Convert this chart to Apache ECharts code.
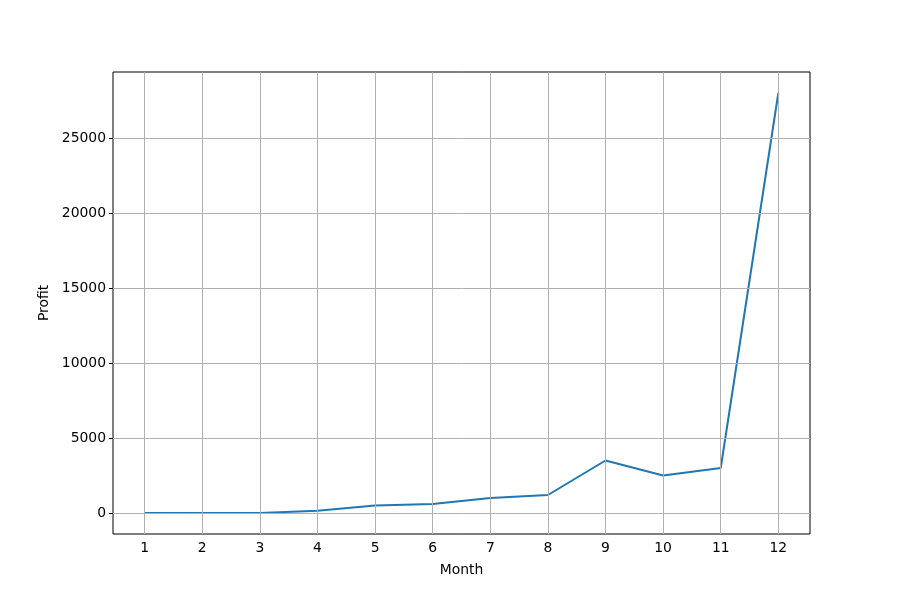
<!DOCTYPE html>
<html>
<head>
<meta charset="utf-8">
<script src="https://cdn.jsdelivr.net/npm/echarts@6/dist/echarts.min.js"></script>
<style>html,body{margin:0;padding:0;background:#fff}#c{width:900px;height:600px}</style>
</head>
<body>
<div id="c"></div>
<script>
const months = [1, 2, 3, 4, 5, 6, 7, 8, 9, 10, 11, 12];
const profit = [0, 0, 0, 150, 500, 600, 1000, 1200, 3500, 2500, 3000, 28000];
const yTicks = [0, 5000, 10000, 15000, 20000, 25000];

const chart = echarts.init(document.getElementById('c'), null, {renderer: 'canvas'});
const font = 'DejaVu Sans';
const gridLineStyle = {color: '#b0b0b0', width: 1, type: 'solid'};

chart.setOption({
  animation: false,
  backgroundColor: '#fff',
  grid: {left: 113, right: 90, top: 72, bottom: 66, show: true, borderColor: '#000', borderWidth: 1, backgroundColor: 'transparent'},
  xAxis: {
    type: 'value', min: 0.45, max: 12.55,
    name: 'Month', nameLocation: 'middle', nameGap: 29,
    nameTextStyle: {color: '#000', fontSize: 13.9, fontFamily: font},
    axisLine: {show: false},
    axisTick: {show: true, customValues: months, length: 4, lineStyle: {color: '#000', width: 1}},
    axisLabel: {customValues: months, color: '#000', fontSize: 13.9, fontFamily: font, margin: 7},
    splitLine: {show: false}
  },
  yAxis: {
    type: 'value', min: -1400, max: 29400,
    name: 'Profit', nameLocation: 'middle', nameGap: 54, nameRotate: 90,
    nameTextStyle: {color: '#000', fontSize: 13.9, fontFamily: font},
    axisLine: {show: false},
    axisTick: {show: true, customValues: yTicks, length: 4, lineStyle: {color: '#000', width: 1}},
    axisLabel: {customValues: yTicks, color: '#000', fontSize: 13.9, fontFamily: font, margin: 7,
      formatter: v => String(v)},
    splitLine: {show: false}
  },
  series: [
    {
      type: 'line', data: [], z: 1, silent: true,
      markLine: {
        silent: true, symbol: 'none', animation: false,
        label: {show: false},
        lineStyle: gridLineStyle,
        data: months.map(m => ({xAxis: m})).concat(yTicks.map(v => ({yAxis: v})))
      }
    },
    {
      type: 'line', z: 3,
      data: months.map((m, i) => [m, profit[i]]),
      showSymbol: false, symbol: 'none',
      lineStyle: {color: '#1f77b4', width: 2},
      itemStyle: {color: '#1f77b4'}
    }
  ]
});
</script>
</body>
</html>
